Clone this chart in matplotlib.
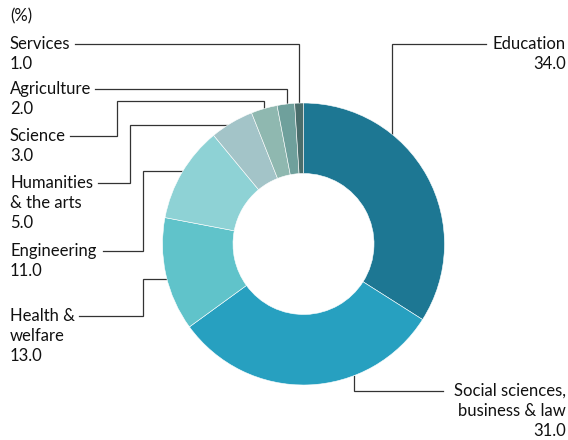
import numpy as np
import matplotlib.pyplot as plt

# data (clockwise from 12 o'clock)
categories = ["Education", "Social sciences,\nbusiness & law", "Health &\nwelfare",
              "Engineering", "Humanities\n& the arts", "Science", "Agriculture", "Services"]
values = [34.0, 31.0, 13.0, 11.0, 5.0, 3.0, 2.0, 1.0]
colors = ["#1d7793", "#27a0c0", "#60c3ca", "#8ed2d5", "#a3c4c8", "#8fb8b0", "#6fa09c", "#4a6e6c"]

W, H = 568, 440
cx, cy, R = 303.5, 244, 141

fig = plt.figure(figsize=(W / 100, H / 100), dpi=100)
ax = fig.add_axes([0, 0, 1, 1])

def fy(y):
    return H - y

ax.pie(values, colors=colors, startangle=90, counterclock=False,
       center=(cx, fy(cy)), radius=R, frame=True,
       wedgeprops=dict(width=R / 2, edgecolor="white", linewidth=0.4))
ax.set_xlim(0, W)
ax.set_ylim(0, H)
ax.set_aspect("equal")
ax.axis("off")

# label layout: text position, alignment, leader path (px, y down); last leg runs to the ring
layout = {
    "Services":    dict(tx=10, ty=44, ha="left", path=[(75, 44), (299, 44)], end="v"),
    "Agriculture": dict(tx=10, ty=89, ha="left", path=[(95, 89), (287, 89)], end="v"),
    "Science":     dict(tx=10, ty=136, ha="left", path=[(70, 136), (117, 136), (117, 101), (264, 101)], end="v"),
    "Humanities\n& the arts": dict(tx=10, ty=183, ha="left", path=[(98, 183), (130, 183), (130, 125)], end="h"),
    "Engineering": dict(tx=10, ty=251, ha="left", path=[(103, 251), (143, 251), (143, 171)], end="h"),
    "Health &\nwelfare": dict(tx=10, ty=316, ha="left", path=[(79, 316), (143, 316), (143, 279)], end="h"),
    "Education":   dict(tx=566, ty=44, ha="right", path=[(486, 44), (392, 44)], end="v"),
    "Social sciences,\nbusiness & law": dict(tx=566, ty=391, ha="right", path=[(443, 391), (354, 391)], end="v"),
}

font = ["Lato", "DejaVu Sans"]
lh = 20

for cat, val in zip(categories, values):
    L = layout[cat]
    pts = list(L["path"])
    lx, ly = pts[-1]
    if L["end"] == "v":
        dx = lx - cx
        dy = np.sqrt(R ** 2 - dx ** 2)
        ey = cy - dy if ly < cy else cy + dy
        pts.append((lx, ey))
    else:
        dy = ly - cy
        dx = np.sqrt(R ** 2 - dy ** 2)
        ex = cx - dx if lx < cx else cx + dx
        pts.append((ex, ly))
    xs = [p[0] for p in pts]
    ys = [fy(p[1]) for p in pts]
    ax.plot(xs, ys, color="#333333", lw=0.9, solid_joinstyle="miter", zorder=0)

    lines = cat.split("\n") + [f"{val:.1f}"]
    for i, t in enumerate(lines):
        ax.text(L["tx"], fy(L["ty"] + i * lh), t, ha=L["ha"], va="center",
                fontsize=12, family=font, color="#111111")

ax.text(10, fy(16), "(%)", ha="left", va="center", fontsize=12, family=font, color="#111111")

fig.savefig("out.png", dpi=100)
